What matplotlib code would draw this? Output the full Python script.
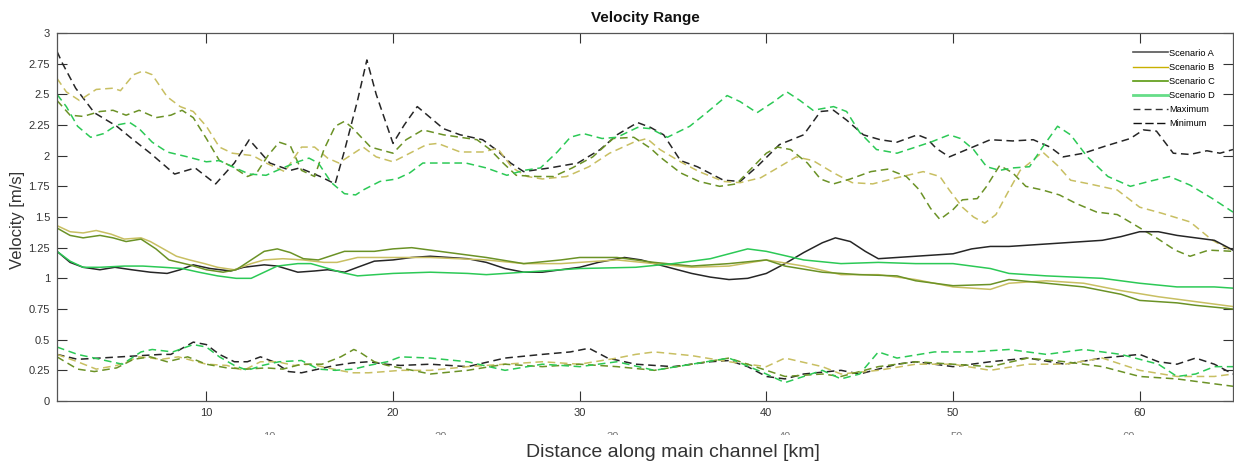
import numpy as np
import matplotlib
matplotlib.use('Agg')
import matplotlib.pyplot as plt
from matplotlib.lines import Line2D
from matplotlib.patches import Rectangle
from matplotlib.ticker import FuncFormatter

plt.rcParams['font.family'] = ['Liberation Sans', 'DejaVu Sans']

# colours of the four scenarios
col_a = '#262626'
col_b = '#c8bf62'
col_c = '#6b9226'
col_d = '#2cc956'

# --- mean velocity (solid lines) ---
mean_a_x = [2, 2.7, 3.4, 4.3, 5.1, 6, 7, 7.9, 8.6, 9.3, 10.2, 11.3, 12, 13.1, 13.8, 14.9, 15.8, 16.5, 17.4, 18.1,
            19, 20, 21, 22, 23, 24, 25, 26, 27, 28, 29, 30, 31, 32.4, 33.3, 34, 35, 36, 37, 38,
            39, 40, 41, 42, 43, 43.7, 44.5, 45.3, 46, 47, 48, 49, 50, 51, 52, 53, 54, 55, 56, 57,
            58, 59, 60, 61, 62, 63, 64, 65]
mean_a_y = [1.22, 1.13, 1.09, 1.07, 1.09, 1.07, 1.05, 1.04, 1.07, 1.11, 1.08, 1.06, 1.09, 1.11, 1.10, 1.05, 1.06, 1.07, 1.05, 1.09,
            1.14, 1.15, 1.17, 1.18, 1.17, 1.16, 1.13, 1.08, 1.05, 1.05, 1.07, 1.09, 1.13, 1.17, 1.15, 1.12, 1.08, 1.04, 1.01, 0.99,
            1.00, 1.04, 1.12, 1.21, 1.29, 1.33, 1.30, 1.22, 1.16, 1.17, 1.18, 1.19, 1.20, 1.24, 1.26, 1.26, 1.27, 1.28, 1.29, 1.30,
            1.31, 1.34, 1.38, 1.38, 1.35, 1.33, 1.31, 1.23]

mean_b_x = [2, 2.7, 3.4, 4.1, 4.9, 5.6, 6.5, 7, 7.7, 8.4, 9.1, 9.9, 10.6, 11.5, 12.4, 13.1, 14.1, 15.2, 16.3, 17,
            18.1, 19, 20, 22, 25, 27, 29, 30, 32, 34, 36, 38, 40, 42, 44, 46, 48, 50, 52, 53,
            55, 57, 59, 61, 63, 65]
mean_b_y = [1.43, 1.38, 1.37, 1.39, 1.36, 1.32, 1.33, 1.30, 1.24, 1.18, 1.15, 1.12, 1.09, 1.07, 1.12, 1.15, 1.16, 1.15, 1.13, 1.13,
            1.17, 1.17, 1.17, 1.17, 1.15, 1.12, 1.12, 1.13, 1.15, 1.12, 1.09, 1.10, 1.15, 1.10, 1.03, 1.03, 0.99, 0.93, 0.91, 0.96,
            0.98, 0.96, 0.90, 0.85, 0.81, 0.77]

mean_c_x = [2, 2.7, 3.4, 4.3, 5, 5.7, 6.5, 7.3, 8, 9.1, 10, 10.9, 11.6, 12.4, 13.1, 13.8, 14.5, 15.2, 16, 16.6,
            17.4, 18.1, 19, 20, 21, 22, 23, 25, 27, 29, 30, 32, 34, 36, 38, 40, 41, 43, 45, 47,
            48, 50, 52, 53, 55, 57, 59, 60, 62, 63, 65]
mean_c_y = [1.41, 1.35, 1.33, 1.35, 1.33, 1.30, 1.32, 1.24, 1.15, 1.11, 1.07, 1.05, 1.07, 1.15, 1.22, 1.24, 1.21, 1.16, 1.15, 1.18,
            1.22, 1.22, 1.22, 1.24, 1.25, 1.23, 1.21, 1.17, 1.12, 1.15, 1.17, 1.17, 1.13, 1.10, 1.12, 1.15, 1.10, 1.05, 1.03, 1.02,
            0.98, 0.94, 0.95, 0.99, 0.96, 0.93, 0.87, 0.82, 0.80, 0.78, 0.75]

mean_d_x = [2, 2.7, 3.4, 4.3, 5.6, 6.6, 7.7, 8.7, 9.6, 10.6, 11.6, 12.4, 13.1, 13.8, 14.9, 15.6, 16.3, 17.2, 18.1, 20,
            22, 24, 25, 27, 30, 33, 35, 37, 38, 39, 40, 42, 44, 46, 48, 50, 52, 53, 55, 58,
            60, 62, 64, 65]
mean_d_y = [1.22, 1.14, 1.09, 1.09, 1.10, 1.10, 1.09, 1.08, 1.05, 1.02, 1.00, 1.00, 1.05, 1.10, 1.12, 1.12, 1.09, 1.05, 1.02, 1.04,
            1.05, 1.04, 1.03, 1.05, 1.08, 1.09, 1.12, 1.16, 1.20, 1.24, 1.22, 1.15, 1.12, 1.13, 1.12, 1.12, 1.08, 1.04, 1.02, 1.00,
            0.96, 0.93, 0.93, 0.92]

# --- maximum velocity (dashed, upper band) ---
max_a_x = [2, 2.3, 3, 4, 5.2, 6, 7, 8.3, 9.4, 10.5, 11.5, 12.3, 13.4, 14.5, 15, 16.1, 16.9, 17.4, 18.1, 18.6,
           19.1, 20, 20.6, 21.3, 22.7, 23.6, 24.8, 25.6, 26.3, 27, 28.4, 29.9, 31.1, 32, 33.1, 33.8, 34.5, 35.4, 36.3, 37.7,
           38.6, 39.5, 40.7, 42, 42.9, 43.6, 44.3, 45.2, 46.1, 47, 48.1, 48.6, 49.1, 49.8, 50.9, 52, 53.2, 54.3, 55.2, 55.9,
           57, 58.2, 59.5, 60.2, 60.9, 61.8, 62.7, 63.6, 64.3, 65]
max_a_y = [2.85, 2.75, 2.55, 2.35, 2.24, 2.14, 2.02, 1.85, 1.90, 1.77, 1.94, 2.13, 1.94, 1.88, 1.90, 1.83, 1.77, 2.04, 2.45, 2.78,
           2.5, 2.1, 2.25, 2.40, 2.22, 2.17, 2.13, 2.04, 1.94, 1.87, 1.90, 1.94, 2.05, 2.17, 2.27, 2.23, 2.17, 1.96, 1.91, 1.80,
           1.79, 1.91, 2.09, 2.17, 2.36, 2.37, 2.29, 2.17, 2.13, 2.11, 2.17, 2.14, 2.06, 1.99, 2.06, 2.13, 2.12, 2.13, 2.07, 1.99,
           2.02, 2.08, 2.14, 2.21, 2.20, 2.02, 2.01, 2.04, 2.02, 2.05]

max_b_x = [2, 2.5, 3.2, 4.1, 5, 5.4, 6.1, 6.6, 7.1, 7.9, 8.6, 9.3, 10, 10.7, 11.4, 12.5, 13.2, 14.2, 15.1, 15.8,
           16.5, 17.1, 18, 18.4, 19.1, 20, 20.9, 21.8, 22.4, 23.6, 24.8, 25.6, 26.4, 27.2, 28, 29.3, 30.5, 31.6, 32.9, 33.6,
           34.3, 35.4, 36.4, 37.7, 38.6, 39.7, 40.6, 41.6, 42.5, 43.6, 44.6, 45.7, 47, 48.4, 49.3, 49.8, 50.5, 51.1, 51.7, 52.3,
           52.9, 53.6, 54.1, 54.8, 55.6, 56.3, 57.3, 58.8, 60, 61.2, 62.7, 63.9, 65]
max_b_y = [2.63, 2.52, 2.45, 2.54, 2.55, 2.53, 2.66, 2.69, 2.66, 2.48, 2.40, 2.36, 2.24, 2.07, 2.02, 2.0, 1.94, 1.87, 2.07, 2.07,
           1.98, 1.94, 2.03, 2.07, 1.99, 1.95, 2.02, 2.09, 2.10, 2.03, 2.03, 2.06, 1.90, 1.83, 1.81, 1.83, 1.91, 2.02, 2.11, 2.14,
           2.05, 1.95, 1.87, 1.79, 1.78, 1.82, 1.90, 1.99, 1.96, 1.86, 1.78, 1.77, 1.82, 1.87, 1.83, 1.72, 1.58, 1.50, 1.45, 1.52,
           1.69, 1.88, 1.94, 2.03, 1.92, 1.80, 1.77, 1.72, 1.58, 1.53, 1.46, 1.31, 1.22]

max_c_x = [2, 2.7, 3.4, 4.3, 5, 5.7, 6.4, 7.3, 8.1, 8.7, 9.3, 10, 10.7, 11.4, 12.2, 12.7, 13.3, 13.9, 14.5, 15.1,
           15.8, 16.3, 16.9, 17.4, 17.8, 18.8, 20, 20.7, 21.6, 22.7, 23.6, 24.5, 25.2, 25.9, 26.6, 27.7, 28.6, 29.6, 30.7, 31.8,
           32.9, 33.8, 34.3, 35.4, 36.4, 37.5, 38.4, 39.1, 40, 40.6, 41.3, 42.2, 42.9, 43.6, 44.5, 45.6, 46.5, 47.5, 48.2, 48.8,
           49.3, 50, 50.5, 51.3, 51.8, 52.5, 53.2, 53.9, 54.8, 55.7, 56.6, 57.7, 58.8, 59.8, 60.9, 61.9, 62.7, 63.7, 65]
max_c_y = [2.45, 2.33, 2.32, 2.36, 2.37, 2.33, 2.37, 2.31, 2.33, 2.37, 2.31, 2.14, 1.96, 1.91, 1.83, 1.86, 2.0, 2.11, 2.08, 1.88,
           1.83, 2.05, 2.24, 2.28, 2.23, 2.07, 2.02, 2.13, 2.21, 2.17, 2.15, 2.13, 2.05, 1.94, 1.84, 1.83, 1.83, 1.90, 1.99, 2.14,
           2.15, 2.06, 1.99, 1.86, 1.79, 1.75, 1.77, 1.88, 2.02, 2.07, 2.05, 1.94, 1.81, 1.77, 1.81, 1.87, 1.89, 1.83, 1.72, 1.57,
           1.48, 1.56, 1.64, 1.65, 1.75, 1.92, 1.86, 1.75, 1.72, 1.68, 1.61, 1.54, 1.52, 1.43, 1.33, 1.23, 1.18, 1.23, 1.22]

max_d_x = [2, 2.5, 3.1, 3.8, 4.5, 5.2, 5.9, 6.4, 7.1, 7.9, 9, 10, 10.7, 11.4, 12.3, 13.2, 14.1, 14.9, 15.5, 16,
           16.7, 17.4, 18, 18.4, 19.3, 20.2, 20.9, 21.6, 22.7, 23.9, 25, 26.1, 27, 27.9, 28.8, 29.5, 30.2, 31.2, 32, 33.1,
           33.8, 34.7, 35.9, 36.8, 37.9, 38.6, 39.5, 40.4, 41.1, 41.8, 42.5, 43.6, 44.3, 45, 45.9, 47, 47.8, 48.8, 49.8, 50.4,
           51.1, 51.8, 52.5, 53.2, 54.1, 54.8, 55.6, 56.3, 57.2, 58.3, 59.5, 60.5, 61.6, 62.7, 63.9, 65]
max_d_y = [2.5, 2.4, 2.24, 2.15, 2.18, 2.25, 2.27, 2.22, 2.11, 2.03, 1.99, 1.95, 1.96, 1.91, 1.85, 1.84, 1.90, 1.95, 1.98, 1.94,
           1.78, 1.69, 1.68, 1.72, 1.79, 1.81, 1.86, 1.94, 1.94, 1.94, 1.90, 1.84, 1.88, 1.90, 2.03, 2.15, 2.18, 2.14, 2.15, 2.23,
           2.22, 2.15, 2.24, 2.35, 2.49, 2.44, 2.35, 2.44, 2.52, 2.45, 2.37, 2.40, 2.36, 2.19, 2.05, 2.02, 2.06, 2.11, 2.17, 2.14,
           2.05, 1.91, 1.88, 1.90, 1.91, 2.07, 2.24, 2.17, 1.99, 1.83, 1.75, 1.79, 1.83, 1.76, 1.65, 1.54]

# --- minimum velocity (dashed, lower band) ---
min_a_x = [2, 3.1, 4.3, 5.4, 6.5, 7.6, 8.1, 8.6, 9.3, 10, 10.7, 11.5, 12.2, 12.9, 13.6, 14.4, 15.1, 16, 16.9, 17.8,
           18.7, 19.6, 20.4, 22, 24, 26, 28, 29.5, 30.5, 31.5, 33, 35, 37, 38, 39, 40, 41, 42, 44, 45,
           47, 48, 50, 52, 54, 56, 58, 60, 61, 62, 63, 64, 65]
min_a_y = [0.38, 0.34, 0.35, 0.36, 0.37, 0.38, 0.38, 0.42, 0.48, 0.46, 0.38, 0.32, 0.32, 0.36, 0.32, 0.24, 0.23, 0.26, 0.29, 0.31,
           0.32, 0.30, 0.29, 0.30, 0.28, 0.35, 0.38, 0.40, 0.43, 0.35, 0.30, 0.28, 0.32, 0.33, 0.28, 0.20, 0.18, 0.22, 0.25, 0.22,
           0.30, 0.32, 0.28, 0.32, 0.35, 0.30, 0.35, 0.38, 0.32, 0.30, 0.35, 0.30, 0.22]

min_b_x = [2, 3.1, 4.1, 5.2, 6.4, 7.6, 8.5, 9.5, 10, 11.1, 12, 12.9, 13.8, 14.7, 15.6, 16.8, 17.8, 18.7, 19.6, 20.4,
           22, 24, 26, 28, 30, 32, 33, 34, 36, 38, 40, 41, 43, 44, 46, 48, 50, 52, 54, 56,
           58, 60, 62, 64, 65]
min_b_y = [0.38, 0.32, 0.26, 0.29, 0.36, 0.34, 0.36, 0.32, 0.30, 0.29, 0.25, 0.32, 0.32, 0.29, 0.30, 0.26, 0.23, 0.23, 0.24, 0.25,
           0.25, 0.28, 0.30, 0.32, 0.30, 0.35, 0.38, 0.40, 0.37, 0.32, 0.28, 0.35, 0.28, 0.22, 0.25, 0.30, 0.30, 0.25, 0.30, 0.30,
           0.35, 0.25, 0.20, 0.20, 0.22]

min_c_x = [2, 3.1, 4, 5.2, 6.1, 7, 7.9, 9, 10, 11.1, 12.2, 13.2, 14.1, 15.1, 16.2, 17.2, 17.9, 18.2, 19, 19.7,
           20.4, 22, 24, 26, 28, 30, 32, 34, 36, 38, 40, 41, 43, 44, 46, 48, 50, 52, 54, 56,
           58, 60, 62, 64, 65]
min_c_y = [0.36, 0.26, 0.24, 0.27, 0.34, 0.36, 0.32, 0.36, 0.30, 0.27, 0.26, 0.27, 0.26, 0.30, 0.30, 0.36, 0.42, 0.40, 0.32, 0.29,
           0.27, 0.22, 0.25, 0.30, 0.28, 0.30, 0.28, 0.25, 0.30, 0.35, 0.25, 0.20, 0.22, 0.20, 0.28, 0.32, 0.30, 0.28, 0.35, 0.32,
           0.28, 0.20, 0.18, 0.14, 0.12]

min_d_x = [2, 3.1, 4.3, 5.5, 6.5, 7.1, 8.2, 9.3, 10, 10.7, 11.5, 12.2, 13, 13.9, 15.1, 16, 16.9, 17.9, 18.7, 19.7,
           20.4, 22, 24, 26, 28, 30, 32, 34, 36, 38, 40, 41, 42, 43, 44, 45, 46, 47, 49, 51,
           53, 55, 57, 59, 61, 62, 63, 64, 65]
min_d_y = [0.44, 0.38, 0.34, 0.30, 0.40, 0.42, 0.40, 0.46, 0.44, 0.36, 0.29, 0.25, 0.29, 0.32, 0.33, 0.26, 0.25, 0.26, 0.29, 0.32,
           0.36, 0.35, 0.32, 0.25, 0.30, 0.28, 0.32, 0.25, 0.30, 0.35, 0.22, 0.15, 0.20, 0.25, 0.18, 0.22, 0.40, 0.35, 0.40, 0.40,
           0.42, 0.38, 0.42, 0.38, 0.30, 0.20, 0.22, 0.28, 0.28]

x_ticks = [10, 20, 30, 40, 50, 60]
y_ticks = [0, 0.25, 0.5, 0.75, 1, 1.25, 1.5, 1.75, 2, 2.25, 2.5, 2.75, 3]
legend_labels = ['Scenario A', 'Scenario B', 'Scenario C', 'Scenario D', 'Maximum', 'Minimum']

W, H = 1234, 461
fig = plt.figure(figsize=(W / 100, H / 100), dpi=100)
ax = fig.add_axes([57 / W, (H - 401) / H, 1176 / W, 368 / H])

dash = (0, (5, 3))
lw = 1.1
for xs, ys, c in [(max_a_x, max_a_y, col_a), (max_b_x, max_b_y, col_b),
                  (max_c_x, max_c_y, col_c), (max_d_x, max_d_y, col_d),
                  (min_a_x, min_a_y, col_a), (min_b_x, min_b_y, col_b),
                  (min_c_x, min_c_y, col_c), (min_d_x, min_d_y, col_d)]:
    ax.plot(xs, ys, color=c, lw=lw, linestyle=dash)

for xs, ys, c in [(mean_a_x, mean_a_y, col_a), (mean_b_x, mean_b_y, col_b),
                  (mean_c_x, mean_c_y, col_c), (mean_d_x, mean_d_y, col_d)]:
    ax.plot(xs, ys, color=c, lw=lw)

ax.set_xlim(2, 65)
ax.set_ylim(0, 3)
ax.set_xticks(x_ticks)
ax.set_yticks(y_ticks)
ax.yaxis.set_major_formatter(FuncFormatter(lambda v, p: '%g' % v))
ax.tick_params(direction='in', length=7, width=0.8, colors='#333333', labelsize=8,
               top=True, right=True, pad=5)
for s in ax.spines.values():
    s.set_color('#555555')
    s.set_linewidth(0.9)

# legend
handles = [Line2D([], [], color='#555555', lw=1.2),
           Line2D([], [], color='#c8b000', lw=1.0),
           Line2D([], [], color='#5a9a10', lw=1.2),
           Line2D([], [], color='#66dd88', lw=2.0),
           Line2D([], [], color='#333333', lw=1.0, linestyle=(0, (5, 3))),
           Line2D([], [], color='#111111', lw=1.0, linestyle=(0, (6, 2.5)))]
ax.legend(handles, legend_labels, loc='upper right', bbox_to_anchor=(0.99, 0.975),
          frameon=False, fontsize=6.7, handlelength=3.8, handletextpad=0.1,
          labelspacing=0.55, borderaxespad=0.3)

# faint clipped tick labels of a hidden second axis below
ax2 = fig.add_axes([57 / W, (H - 401) / H, 1176 / W, 368 / H], zorder=-1)
ax2.patch.set_visible(False)
for s in ax2.spines.values():
    s.set_visible(False)
ax2.set_xlim(-2.33, 66.05)
ax2.set_ylim(0, 1)
ax2.set_yticks([])
ax2.set_xticks(x_ticks)
ax2.tick_params(axis='x', length=0, labelsize=8, labelcolor='#777777', pad=22)
fig.patches.append(Rectangle((0, 0), 1, (H - 434.5) / H, transform=fig.transFigure,
                             facecolor='white', edgecolor='none', zorder=3))

fig.text(673 / W, (H - 452) / H, 'Distance along main channel [km]', fontsize=14,
         color='#333333', ha='center', va='center', zorder=4)
fig.text(645 / W, (H - 18) / H, 'Velocity Range', fontsize=11, fontweight='bold',
         color='#111111', ha='center', va='center')
fig.text(18 / W, (H - 220) / H, 'Velocity [m/s]', fontsize=12, color='#333333',
         rotation=90, ha='center', va='center')

fig.savefig('out.png', dpi=100)
